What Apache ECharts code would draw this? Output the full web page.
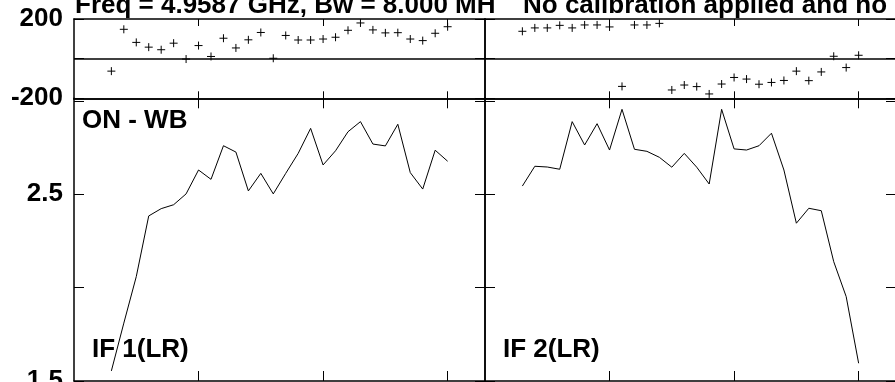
<!DOCTYPE html>
<html>
<head>
<meta charset="utf-8">
<script src="https://cdn.jsdelivr.net/npm/echarts@6/dist/echarts.min.js"></script>
<style>
html, body { margin: 0; padding: 0; background: #fff; }
#chart { width: 895px; height: 382px; }
</style>
</head>
<body>
<div id="chart"></div>
<script>
// Spectral channels plotted in each IF panel
const channels = [3, 4, 5, 6, 7, 8, 9, 10, 11, 12, 13, 14, 15, 16, 17, 18, 19, 20, 21, 22, 23, 24, 25, 26, 27, 28, 29, 30];

// IF 1 (LR): phase in degrees and amplitude
const phaseIF1 = [-63, 148, 82, 58, 45, 78, -2, 66, 11, 103, 54, 95, 132, 2, 117, 94, 94, 99, 108, 143, 180, 145, 130, 131, 99, 91, 128, 161];
const ampIF1 = [1.554, 1.81, 2.059, 2.384, 2.423, 2.444, 2.502, 2.630, 2.580, 2.760, 2.726, 2.518, 2.612, 2.502, 2.612, 2.719, 2.853, 2.657, 2.733, 2.835, 2.889, 2.769, 2.759, 2.875, 2.616, 2.528, 2.736, 2.677];

// IF 2 (LR): phase in degrees and amplitude
const phaseIF2 = [138, 155, 155, 168, 155, 170, 170, 160, -140, 170, 170, 178, -158, -133, -141, -178, -128, -95, -103, -129, -120, -110, -63, -111, -67, 12, -45, 17];
const ampIF2 = [2.544, 2.650, 2.646, 2.634, 2.889, 2.764, 2.878, 2.737, 2.955, 2.741, 2.730, 2.698, 2.645, 2.719, 2.645, 2.555, 2.955, 2.743, 2.737, 2.760, 2.827, 2.630, 2.345, 2.425, 2.412, 2.139, 1.952, 1.595];

// Axis ticks and labels
const channelTicks = [10, 20, 30];
const phaseTicks = [-200, 0, 200];
const phaseLabels = [-200, 200];
const ampTicks = [1.5, 2.0, 2.5, 3.0];
const ampLabels = [1.5, 2.5];

// Text
const titleLeft = 'Freq = 4.9587 GHz, Bw = 8.000 MH';
const titleRight = 'No calibration applied and no';
const sourceLabel = 'ON - WB';
const panelLabels = ['IF 1(LR)', 'IF 2(LR)'];

const FONT = 'Liberation Sans, Arial, Helvetica, sans-serif';
const ink = '#000';

const chart = echarts.init(document.getElementById('chart'), null, { renderer: 'canvas' });

const PH_TOP = 19, PH_H = 79.3, AMP_TOP = 98.3, AMP_H = 282.7;
const LEFT1 = 74, LEFT2 = 485, W = 411;

const grids = [
  { left: LEFT1, top: PH_TOP, width: W, height: PH_H },
  { left: LEFT2, top: PH_TOP, width: W, height: PH_H },
  { left: LEFT1, top: AMP_TOP, width: W, height: AMP_H },
  { left: LEFT2, top: AMP_TOP, width: W, height: AMP_H }
].map(g => Object.assign(g, { containLabel: false, outerBoundsMode: 'none' }));

const xAxes = [];
const yAxes = [];
grids.forEach((g, i) => {
  const tickLen = i < 2 ? 7 : 10;
  ['bottom', 'top'].forEach(pos => {
    xAxes.push({
      type: 'value', gridIndex: i, position: pos, min: 0, max: 33,
      axisLine: { show: true, onZero: false, lineStyle: { color: ink, width: 1.5 } },
      axisTick: { show: true, inside: true, length: tickLen, customValues: channelTicks, lineStyle: { color: ink, width: 1 } },
      axisLabel: { show: false },
      splitLine: { show: false }
    });
  });
  const isPhase = i < 2;
  ['left', 'right'].forEach(pos => {
    const showLabels = pos === 'left' && (i === 0 || i === 2);
    yAxes.push({
      type: 'value', gridIndex: i, position: pos,
      min: isPhase ? -200 : 1.5,
      max: isPhase ? 200 : 3.014,
      axisLine: { show: true, onZero: false, lineStyle: { color: ink, width: 1.5 } },
      axisTick: { show: true, inside: true, length: 10, customValues: isPhase ? phaseTicks : ampTicks, lineStyle: { color: ink, width: 1 } },
      axisLabel: {
        show: showLabels,
        customValues: isPhase ? phaseLabels : ampLabels,
        color: ink, fontFamily: FONT, fontWeight: 'bold', fontSize: 26, margin: 11,
        formatter: v => isPhase ? String(v) : v.toFixed(1)
      },
      splitLine: { show: false }
    });
  });
});

function toPairs(vals) {
  return channels.map((c, k) => [c, vals[k]]);
}

const plusSymbol = 'path://M5,0L5,10M0,5L10,5';

function phaseSeries(grid, vals) {
  return {
    type: 'scatter', xAxisIndex: grid * 2, yAxisIndex: grid * 2,
    data: toPairs(vals), symbol: plusSymbol, symbolSize: 8, silent: true,
    itemStyle: { color: 'none', borderColor: ink, borderWidth: 1, opacity: 1 },
    markLine: {
      silent: true, symbol: 'none', label: { show: false },
      lineStyle: { color: ink, type: 'solid', width: 1.5 },
      data: [{ yAxis: 0 }]
    }
  };
}

function ampSeries(grid, vals) {
  return {
    type: 'line', xAxisIndex: grid * 2, yAxisIndex: grid * 2,
    data: toPairs(vals), showSymbol: false, silent: true,
    lineStyle: { color: ink, width: 1 }
  };
}

function label(txt, x, y) {
  return { type: 'text', x: x, y: y, silent: true, style: { text: txt, fill: ink, font: 'bold 26px ' + FONT, verticalAlign: 'middle' } };
}

chart.setOption({
  animation: false,
  backgroundColor: '#fff',
  grid: grids,
  xAxis: xAxes,
  yAxis: yAxes,
  series: [
    phaseSeries(0, phaseIF1),
    phaseSeries(1, phaseIF2),
    ampSeries(2, ampIF1),
    ampSeries(3, ampIF2)
  ],
  graphic: [
    label(titleLeft, 75, 5.5),
    label(titleRight, 523, 5.5),
    label(sourceLabel, 82, 121),
    label(panelLabels[0], 92, 350),
    label(panelLabels[1], 503, 350)
  ]
});
</script>
</body>
</html>
